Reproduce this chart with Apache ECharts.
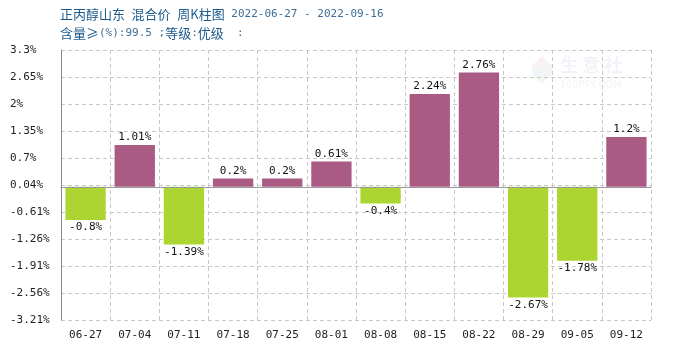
<!DOCTYPE html>
<html>
<head>
<meta charset="utf-8">
<script src="https://cdn.jsdelivr.net/npm/echarts@6/dist/echarts.min.js"></script>
<style>
  html, body { margin: 0; padding: 0; background: #fff; }
  #chart { width: 700px; height: 350px; }
</style>
</head>
<body>
<div id="chart"></div>
<script>
// Weekly change of n-propanol (Shandong, blended price), 2022-06-27 to 2022-09-16
const weeks = ['06-27', '07-04', '07-11', '07-18', '07-25', '08-01', '08-08', '08-15', '08-22', '08-29', '09-05', '09-12'];
const changes = [-0.8, 1.01, -1.39, 0.2, 0.2, 0.61, -0.4, 2.24, 2.76, -2.67, -1.78, 1.2];
const yTicks = [-3.21, -2.559, -1.908, -1.257, -0.606, 0.045, 0.696, 1.347, 1.998, 2.649, 3.3];

const UP = '#A95B84';
const DOWN = '#ADD532';
const FONT = '"Noto Sans CJK SC", "DejaVu Sans", sans-serif';
const MONO = '"DejaVu Sans Mono", monospace';

function fmtPct(v) {
  return parseFloat(v.toFixed(2)) + '%';
}

const titleRich = {
  a: { fill: '#1C5A8C', fontSize: 13, fontFamily: FONT },
  b: { fill: '#3E6E96', fontSize: 11, fontFamily: MONO },
  s: { fontSize: 11, fontFamily: MONO }
};

const chart = echarts.init(document.getElementById('chart'), null, { renderer: 'canvas' });

chart.setOption({
  animation: false,
  backgroundColor: '#fff',
  textStyle: { fontFamily: FONT },
  graphic: [
    {
      type: 'text', left: 60, top: 8,
      style: {
        rich: titleRich,
        text: '{a|正丙醇山东}{s| }{a|混合价}{s| }{a|周K柱图}{s| }{b|2022-06-27 - 2022-09-16}'
      }
    },
    {
      type: 'text', left: 60, top: 27,
      style: {
        rich: titleRich,
        text: '{a|含量≥}{b|(%):99.5 ;}{a|等级}{b|:}{a|优级}{b|  :}'
      }
    },
    // faint site mark
    {
      type: 'group', left: 532, top: 56, silent: true,
      children: [
        { type: 'polygon', shape: { points: [[2, 10], [12, 0], [22, 10]] }, style: { fill: '#FAF0F0' } },
        { type: 'rect', shape: { x: 2, y: 10, width: 20, height: 10 }, style: { fill: '#F3F4F8' } },
        { type: 'polygon', shape: { points: [[4, 20], [12, 28], [20, 20]] }, style: { fill: '#EFF7F1' } },
        { type: 'text', x: 30, y: 0, style: { text: '生 意 社', fill: '#F2F3F8', fontSize: 18, fontWeight: 'bold', fontFamily: FONT } },
        { type: 'text', x: 30, y: 22, style: { text: '100PPI.COM', fill: '#F3F4F8', fontSize: 11, fontFamily: FONT } }
      ]
    }
  ],
  grid: { left: 61, right: 49, top: 50, bottom: 30, containLabel: false },
  xAxis: {
    type: 'category',
    data: weeks,
    axisLine: { show: true, lineStyle: { color: '#888', width: 1 } },
    axisTick: { show: false },
    axisLabel: { color: '#222', fontSize: 11, margin: 10, fontFamily: MONO },
    splitLine: { show: true, interval: 0, lineStyle: { color: '#C8C8C8', type: [4, 3], width: 1 } }
  },
  yAxis: {
    type: 'value',
    min: -3.21,
    max: 3.3,
    axisLine: { show: true, lineStyle: { color: '#888', width: 1 } },
    axisTick: { show: false, customValues: yTicks },
    axisLabel: {
      customValues: yTicks,
      color: '#222', fontSize: 11, margin: 51, align: 'left',
      fontFamily: MONO,
      formatter: v => fmtPct(v)
    },
    splitLine: { show: true, lineStyle: { color: '#C8C8C8', type: [4, 3], width: 1 } }
  },
  series: [{
    type: 'bar',
    data: changes.map(v => ({
      value: v,
      itemStyle: { color: v >= 0 ? UP : DOWN },
      label: { position: v >= 0 ? 'top' : 'bottom' }
    })),
    barCategoryGap: '18%',
    label: {
      show: true,
      color: '#111',
      fontSize: 11,
      distance: 2,
      fontFamily: MONO,
      formatter: p => fmtPct(p.value)
    },
    markLine: {
      silent: true,
      symbol: 'none',
      label: { show: false },
      lineStyle: { color: '#999', type: 'solid', width: 1 },
      data: [{ yAxis: 0 }]
    }
  }]
});
</script>
</body>
</html>
